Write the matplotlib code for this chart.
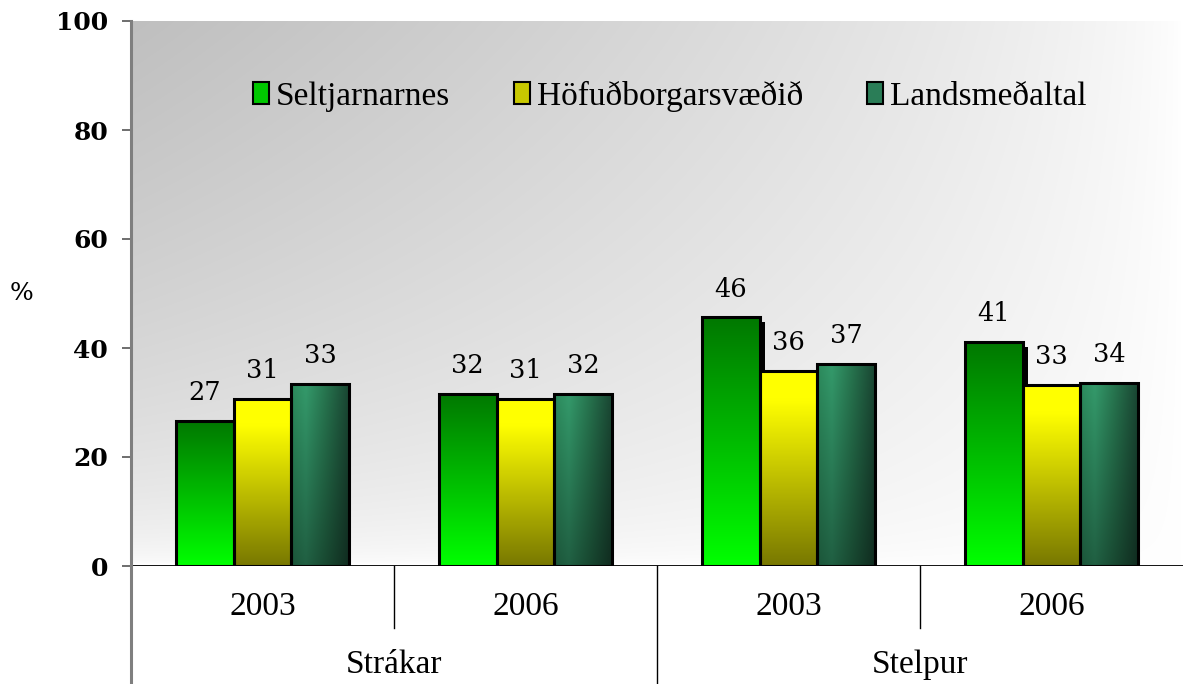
### bar chart with gradient bars, grouped by gender and year

import numpy as np
import matplotlib.pyplot as plt
from matplotlib.transforms import ScaledTranslation, blended_transform_factory
from matplotlib.patches import Patch

### data
years = ['2003', '2006', '2003', '2006']
genders = ['Strákar', 'Stelpur']
series_names = ['Seltjarnarnes', 'Höfuðborgarsvæðið', 'Landsmeðaltal']
seltjarnarnes = [26.6, 31.6, 45.6, 41.1]
hofudborgarsvaedid = [30.6, 30.6, 35.8, 33.2]
landsmedaltal = [33.4, 31.6, 37.1, 33.6]
yticks = [0, 20, 40, 60, 80, 100]

series_values = [seltjarnarnes, hofudborgarsvaedid, landsmedaltal]

### gradient fills for each series
def hexrgb(h):
    h = h.lstrip('#')
    return np.array([int(h[i:i + 2], 16) / 255.0 for i in (0, 2, 4)])

def vertical_fill(top, bottom, hold=0.0, n=100):
    t = np.linspace(0, 1, n)
    t = np.clip((t - hold) / (1 - hold), 0, 1)
    col = hexrgb(top)[None, :] * (1 - t[:, None]) + hexrgb(bottom)[None, :] * t[:, None]
    return np.repeat(col[:, None, :], 2, axis=1)

def teal_fill(n=100, m=40):
    u = np.linspace(0, 1, m)
    knots = [0.0, 0.25, 0.6, 1.0]
    cols = [hexrgb('#2c8a5c'), hexrgb('#349a6b'), hexrgb('#27754f'), hexrgb('#1a4733')]
    row = np.stack([np.interp(u, knots, [c[i] for c in cols]) for i in range(3)], axis=1)
    v = np.linspace(0, 1, n)
    shade = 1.0 - 0.38 * v
    img = row[None, :, :] * shade[:, None, None]
    return np.clip(img, 0, 1)

fills = [
    vertical_fill('#007800', '#00ff00'),
    vertical_fill('#ffff00', '#787800', hold=0.15),
    teal_fill(),
]
legend_colors = ['#00c800', '#c8c800', '#2a7d57']

### figure and axes
fig = plt.figure(figsize=(11.83, 6.84), dpi=100)
ax = fig.add_axes([131 / 1183, 118 / 684, 1052 / 1183, 545 / 684])

### plot area background: gray in the upper left fading to white
uu, vv = np.meshgrid(np.linspace(0, 1, 300), np.linspace(0, 1, 200))
bg = 1.0 - 0.25 * (1 - uu) ** 0.7 * (1 - vv) ** 0.5
ax.imshow(np.repeat(bg[:, :, None], 3, axis=2), extent=[0, 1, 0, 1], transform=ax.transAxes,
          aspect='auto', zorder=0, interpolation='bilinear')

### bars (first two series cast a small shadow to the right)
width = 0.22
x = np.arange(len(years))
shadow = ax.transData + ScaledTranslation(5 / 100, -5 / 100, fig.dpi_scale_trans)
for k, vals in enumerate(series_values):
    xs = x + (k - 1) * width
    if k < 2:
        ax.bar(xs, vals, width, color='black', linewidth=0, transform=shadow, zorder=1.5)
    for xi, v in zip(xs, vals):
        ax.imshow(fills[k], extent=[xi - width / 2, xi + width / 2, 0, v], aspect='auto',
                  interpolation='bilinear', zorder=2)
    ax.bar(xs, vals, width, facecolor='none', edgecolor='black', linewidth=2.2, zorder=3)
    for xi, v in zip(xs, vals):
        ax.annotate('%.0f' % v, (xi, v), xytext=(0, 15), textcoords='offset points',
                    ha='center', va='baseline', fontsize=18.5, family='DejaVu Serif', zorder=4)

ax.set_xlim(-0.5, len(years) - 0.5)
ax.set_ylim(0, 100)

### axes styling
for s in ax.spines.values():
    s.set_visible(False)
ax.set_xticks([])
ax.set_yticks(yticks)
ax.tick_params(axis='y', direction='out', length=6.5, width=1.2, color='#555555', pad=10)
for lbl in ax.get_yticklabels():
    lbl.set_fontfamily('DejaVu Serif')
    lbl.set_fontweight('bold')
    lbl.set_fontsize(18)
ax.text(-0.104, 0.5, '%', transform=ax.transAxes, ha='center', va='center',
        fontsize=18, family='DejaVu Serif')

### left axis line runs down through the category labels
ax.plot([0, 0], [1, -0.22], transform=ax.transAxes, color='#7f7f7f', lw=2.2,
        clip_on=False, zorder=5)
ax.axhline(0, color='black', lw=1.3, zorder=4)

### two-level category axis
trans = blended_transform_factory(ax.transData, ax.transAxes)
for xi in [0.5, 2.5]:
    ax.plot([xi, xi], [0, -0.114], transform=trans, color='black', lw=1, clip_on=False)
for xi in [1.5]:
    ax.plot([xi, xi], [0, -0.22], transform=trans, color='black', lw=1, clip_on=False)
for xi, yr in zip(x, years):
    ax.text(xi, -0.075, yr, transform=trans, ha='center', va='center',
            fontsize=24, family='Liberation Serif')
for j, g in enumerate(genders):
    ax.text(2 * j + 0.5, -0.182, g, transform=trans, ha='center', va='center',
            fontsize=24, family='Liberation Serif')

### legend
handles = [Patch(facecolor=c, edgecolor='black', linewidth=1.5) for c in legend_colors]
leg = ax.legend(handles, series_names, loc='center', bbox_to_anchor=(0.512, 0.862), ncol=3,
                frameon=False, handlelength=0.5, handleheight=0.6, handletextpad=0.2,
                columnspacing=1.9, prop={'family': 'Liberation Serif', 'size': 24})
leg.set_zorder(6)

fig.savefig('out.png', dpi=100)
